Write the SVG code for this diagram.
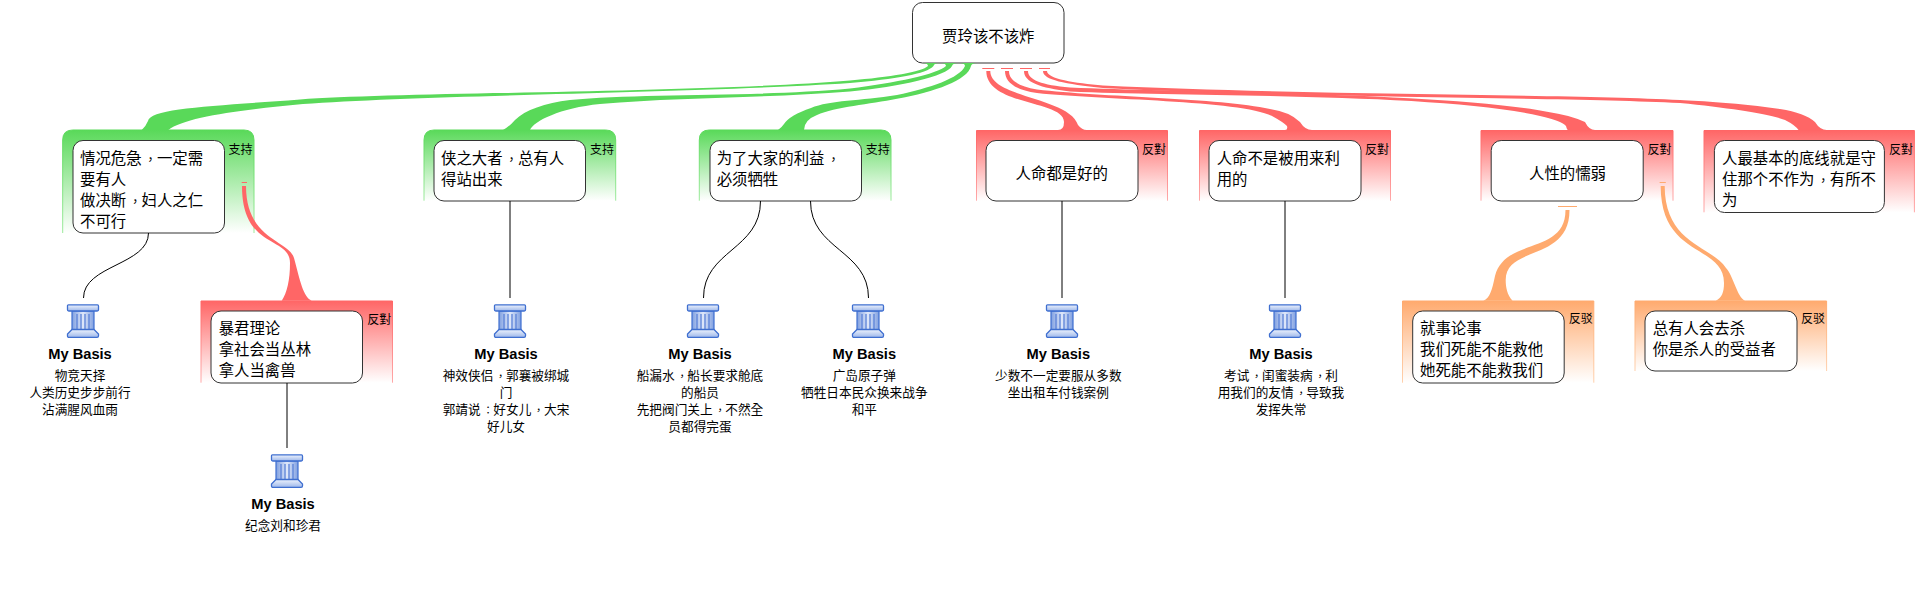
<svg xmlns="http://www.w3.org/2000/svg" width="1920" height="590" viewBox="0 0 1920 590" xml:lang="zh-Hant">
<style>
text{font-family:"Noto Sans CJK TC","Noto Sans CJK SC","Liberation Sans",sans-serif;fill:#000}
.t{font-size:15.4px}
.c{text-anchor:middle}
.l{font-size:12px}
.s{font-size:12.67px;text-anchor:middle}
.p{font-size:12.9px}
.q{font-size:10.67px}
.h{font-family:"Liberation Sans",Arial,sans-serif;font-weight:bold;font-size:14.67px;text-anchor:middle}
.box{fill:#fff;stroke:#333;stroke-width:1}
.bg{fill:url(#gg);stroke:url(#ggs);stroke-width:1}
.br{fill:url(#gr);stroke:url(#grs);stroke-width:1}
.bo{fill:url(#go);stroke:url(#gos);stroke-width:1}
.wire{fill:none;stroke:#000;stroke-width:1}
.green{fill:#59d959}
.red{fill:#ff6666}
.orange{fill:#ffaa6e}
.dr{stroke:#ff6666;stroke-width:1}
.do{stroke:#ffaa6e;stroke-width:1}
</style>
<defs>
<linearGradient id="gg" x1="0" y1="0" x2="0" y2="1"><stop offset="0" stop-color="#59d959"/><stop offset="1" stop-color="#fff"/></linearGradient>
<linearGradient id="gr" x1="0" y1="0" x2="0" y2="1"><stop offset="0" stop-color="#ff6666"/><stop offset="1" stop-color="#fff"/></linearGradient>
<linearGradient id="go" x1="0" y1="0" x2="0" y2="1"><stop offset="0" stop-color="#ffaa6e"/><stop offset="1" stop-color="#fff"/></linearGradient>
<linearGradient id="ggs" x1="0" y1="0" x2="0" y2="1"><stop offset="0" stop-color="#59d959"/><stop offset="1" stop-color="#9cea9c"/></linearGradient>
<linearGradient id="grs" x1="0" y1="0" x2="0" y2="1"><stop offset="0" stop-color="#ff6666"/><stop offset="1" stop-color="#ffa8a8"/></linearGradient>
<linearGradient id="gos" x1="0" y1="0" x2="0" y2="1"><stop offset="0" stop-color="#ffaa6e"/><stop offset="1" stop-color="#ffd0ac"/></linearGradient>
<linearGradient id="shaft" x1="0" y1="0" x2="1" y2="0"><stop offset="0" stop-color="#7f9fe0"/><stop offset=".5" stop-color="#dfe8fa"/><stop offset="1" stop-color="#7f9fe0"/></linearGradient>
<linearGradient id="cap" x1="0" y1="0" x2="0" y2="1"><stop offset="0" stop-color="#eef3fd"/><stop offset="1" stop-color="#9db7ea"/></linearGradient>
<g id="column">
<rect x="5" y="7" width="22" height="21" fill="url(#shaft)" stroke="#3f6fd0" stroke-width="1.2"/>
<path d="M10 10V25M14 10V25M18 10V25M22 10V25" stroke="#5b82d8" stroke-width="1.3" fill="none"/>
<path d="M1.5 .8H30.5Q31.5 .8 31.5 2V5.5Q31.5 7 30 7H2Q.5 7 .5 5.5V2Q.5 .8 1.5 .8Z" fill="url(#cap)" stroke="#3f6fd0" stroke-width="1.3"/>
<path d="M5 25.5H27L31.5 30V32Q31.5 33.4 30 33.4H2Q.5 33.4 .5 32V30Z" fill="url(#cap)" stroke="#3f6fd0" stroke-width="1.3"/>
</g>
</defs>

<g id="root"><rect class="box" x="912.5" y="2.5" width="151.5" height="60.5" rx="10"/><text class="t c" x="988.3" y="41.5">贾玲该不该炸</text></g>

<g id="n1"><path class="bg" d="M62.7 233V140Q62.7 130 72.7 130H244Q254 130 254 140V233"/><rect class="box" x="73" y="140.5" width="151.5" height="92.5" rx="10"/>
<text class="t" x="80" y="164">情况危急<tspan class="p" dx="2.5">，</tspan>一定需</text><text class="t" x="80" y="185">要有人</text><text class="t" x="80" y="205.5">做决断<tspan class="p" dx="2.5">，</tspan>妇人之仁</text><text class="t" x="80" y="226.5">不可行</text><text class="l" x="228.5" y="153.5">支持</text></g>
<g id="n2"><path class="bg" d="M424 200.7V140Q424 130 434 130H605.7Q615.7 130 615.7 140V200.7"/><rect class="box" x="434" y="140.5" width="151.5" height="60.5" rx="10"/>
<text class="t" x="441" y="164">侠之大者<tspan class="p" dx="2.5">，</tspan>总有人</text><text class="t" x="441" y="185">得站出来</text><text class="l" x="590" y="153.5">支持</text></g>
<g id="n3"><path class="bg" d="M699.3 200.7V140Q699.3 130 709.3 130H881Q891 130 891 140V200.7"/><rect class="box" x="710" y="140.5" width="151.5" height="60.5" rx="10"/>
<text class="t" x="716.7" y="164">为了大家的利益<tspan class="p" dx="2.5">，</tspan></text><text class="t" x="716.7" y="185">必须牺牲</text><text class="l" x="865.7" y="153.5">支持</text></g>
<g id="n4"><path class="br" d="M976.5 200.7V130.5H1167.5V200.7"/><rect class="box" x="986" y="140.5" width="152" height="60.5" rx="10"/>
<text class="t c" x="1061.8" y="178.5">人命都是好的</text><text class="l" x="1142" y="153.5">反對</text></g>
<g id="n5"><path class="br" d="M1199.5 200.7V130.5H1390.5V200.7"/><rect class="box" x="1209" y="140.5" width="152" height="60.5" rx="10"/>
<text class="t" x="1216.7" y="164">人命不是被用来利</text><text class="t" x="1216.7" y="185">用的</text><text class="l" x="1365" y="153.5">反對</text></g>
<g id="n6"><path class="br" d="M1481 200.7V130.5H1673V200.7"/><rect class="box" x="1491.2" y="140.5" width="152" height="60.5" rx="10"/>
<text class="t c" x="1567.5" y="178.5">人性的懦弱</text><text class="l" x="1647.6" y="153.5">反對</text></g>
<g id="n7"><path class="br" d="M1704 212.3V130.5H1914.4V212.3"/><rect class="box" x="1714.4" y="140.5" width="170" height="72" rx="10"/>
<text class="t" x="1722" y="164">人最基本的底线就是守</text><text class="t" x="1722" y="185">住那个不作为<tspan class="p" dx="2.5">，</tspan>有所不</text><text class="t" x="1722" y="205.5">为</text><text class="l" x="1889" y="153.5">反對</text></g>
<g id="n8"><path class="br" d="M201 382.7V301H392.5V382.7"/><rect class="box" x="211" y="311" width="151.5" height="72" rx="10"/>
<text class="t" x="218.7" y="334">暴君理论</text><text class="t" x="218.7" y="355">拿社会当丛林</text><text class="t" x="218.7" y="375.5">拿人当禽兽</text><text class="l" x="367.3" y="323.5">反對</text></g>
<g id="n9"><path class="bo" d="M1402.5 382.7V301H1593.8V382.7"/><rect class="box" x="1412.7" y="311" width="151.5" height="72" rx="10"/>
<text class="t" x="1420" y="333.5">就事论事</text><text class="t" x="1420" y="354.5">我们死能不能救他</text><text class="t" x="1420" y="375.5">她死能不能救我们</text><text class="l" x="1568.7" y="323">反驳</text></g>
<g id="n10"><path class="bo" d="M1635 371V301H1826.6V371"/><rect class="box" x="1645" y="311" width="152" height="60" rx="10"/>
<text class="t" x="1652.7" y="333.5">总有人会去杀</text><text class="t" x="1652.7" y="354.5">你是杀人的受益者</text><text class="l" x="1801" y="323">反驳</text></g>

<g id="b1"><use href="#column" x="67" y="304"/><text class="h" x="80" y="359">My Basis</text><text class="s" x="80" y="379.5">物竞天择</text><text class="s" x="80" y="396.5">人类历史步步前行</text><text class="s" x="80" y="413.5">沾满腥风血雨</text></g>
<g id="b2"><use href="#column" x="494" y="304"/><text class="h" x="506" y="359">My Basis</text><text class="s" x="506" y="379.5">神效侠侣<tspan class="q" dx="2">，</tspan>郭襄被绑城</text><text class="s" x="506" y="396.5">门</text><text class="s" x="506" y="413.5">郭靖说<tspan class="q" dx="2">：</tspan>好女儿<tspan class="q" dx="2">，</tspan>大宋</text><text class="s" x="506" y="430.5">好儿女</text></g>
<g id="b3"><use href="#column" x="687" y="304"/><text class="h" x="700" y="359">My Basis</text><text class="s" x="700" y="379.5">船漏水<tspan class="q" dx="2">，</tspan>船长要求舱底</text><text class="s" x="700" y="396.5">的船员</text><text class="s" x="700" y="413.5">先把阀门关上<tspan class="q" dx="2">，</tspan>不然全</text><text class="s" x="700" y="430.5">员都得完蛋</text></g>
<g id="b4"><use href="#column" x="852" y="304"/><text class="h" x="864.3" y="359">My Basis</text><text class="s" x="864.3" y="379.5">广岛原子弹</text><text class="s" x="864.3" y="396.5">牺牲日本民众换来战争</text><text class="s" x="864.3" y="413.5">和平</text></g>
<g id="b5"><use href="#column" x="1046" y="304"/><text class="h" x="1058.3" y="359">My Basis</text><text class="s" x="1058.3" y="379.5">少数不一定要服从多数</text><text class="s" x="1058.3" y="396.5">坐出租车付钱案例</text></g>
<g id="b6"><use href="#column" x="1269" y="304"/><text class="h" x="1281" y="359">My Basis</text><text class="s" x="1281" y="379.5">考试<tspan class="q" dx="2">，</tspan>闺蜜装病<tspan class="q" dx="2">，</tspan>利</text><text class="s" x="1281" y="396.5">用我们的友情<tspan class="q" dx="2">，</tspan>导致我</text><text class="s" x="1281" y="413.5">发挥失常</text></g>
<g id="b7"><use href="#column" x="271" y="454"/><text class="h" x="283" y="509">My Basis</text><text class="s" x="283" y="529.5">纪念刘和珍君</text></g>

<g id="connectors">
<path class="green" d="M922 63Q928 63 928 66C922 72 890 77 850 80.5C700 93 400 92 300 99.5C215 106 150 108 148 121Q146 126 141.7 130H168.3C185 117 240 110 303 104C420 95 700 93 850 83C895 79 927 74 933.5 66Q934 63 940 63Z"/>
<path class="green" d="M940 63Q946 63 946 66C938 74 895 83 850 88.5C760 97 640 93 570 100C545 103 525 110 515 120Q510 126 503 130H530C534 121 560 108 600 104C680 97 770 98 850 91.5C900 87 947 76 952 66Q952.5 63 959 63Z"/>
<path class="green" d="M959 63Q965 63 965 66C960 78 930 88 897 95C860 101 830 100 811 108Q790 115 784 124Q782 127 778 130H804Q804 120 817 115C835 107 870 104 897 98.7C935 92 968 80 971 66Q971.5 63 977.7 63Z"/>
<path class="dr" d="M982.3 68.5H994.3M1001 68.5H1013M1020 68.5H1032M1039 68.5H1050M241.7 182.5H247"/>
<path class="do" d="M1558 206.5H1577M1659.6 182.5H1665.8"/>
<path class="red" d="M986.3 71C986.3 106 1064 100 1064 122Q1064 130 1058 130H1086.7Q1082 130 1078 125C1069 97 990.3 98 990.3 71Z"/>
<path class="red" d="M1005 71C1005 82 1015 90 1037 93C1100 100 1240 100 1272 116Q1283 122 1287 126Q1288 130 1285 130H1312Q1305 130 1300 122Q1290 112 1270 109C1220 98 1100 97 1037 89.5C1018 86 1009 80 1009 71Z"/>
<path class="red" d="M1024 71C1024 82 1040 88 1070 91.5C1200 97 1440 93 1540 116Q1562 121 1566 126Q1567 130 1568 130H1595Q1589 130 1585 122Q1570 115 1547 111.7C1440 92 1200 93 1070 87.5C1042 85 1028 80 1028 71Z"/>
<path class="red" d="M1043 71C1043 80 1065 84 1103 88C1300 98 1560 97 1680 103C1730 108 1770 114 1785 120Q1795 125 1798.5 130H1826.7Q1820 130 1815 122Q1805 113 1780 109C1740 103 1700 101 1680 100C1560 94 1300 95 1103 85.5C1075 83 1047 79 1047 71Z"/>
<path class="red" d="M242 186C242 250 290 236 290 263C290 280 287 293 281.7 300.7H311.7C303 297 300 280 294 258C289 240 246 240 246 186Z"/>
<path class="orange" d="M1565.5 210C1565.5 255 1505 237 1495 276C1492 290 1490 298 1483.3 300.7H1512.6C1507 295 1505.7 287 1505.7 280C1505.7 245 1569.5 262 1569.5 210Z"/>
<path class="orange" d="M1660.7 186C1660.7 258 1724 244 1724 283C1724 292 1722 298 1715.7 300.7H1745C1737 297 1733 275 1726 268C1712 246 1664.7 244 1664.7 186Z"/>
<path class="wire" d="M148.5 233C148.5 265 83.5 265 83.5 298"/>
<path class="wire" d="M760.5 201C760.5 250 703.5 250 703.5 298"/>
<path class="wire" d="M810.5 201C810.5 250 868.5 250 868.5 298"/>
<path class="wire" d="M510 201V298M1062 201V298M1285 201V298M287 383V448"/>
</g>
</svg>
